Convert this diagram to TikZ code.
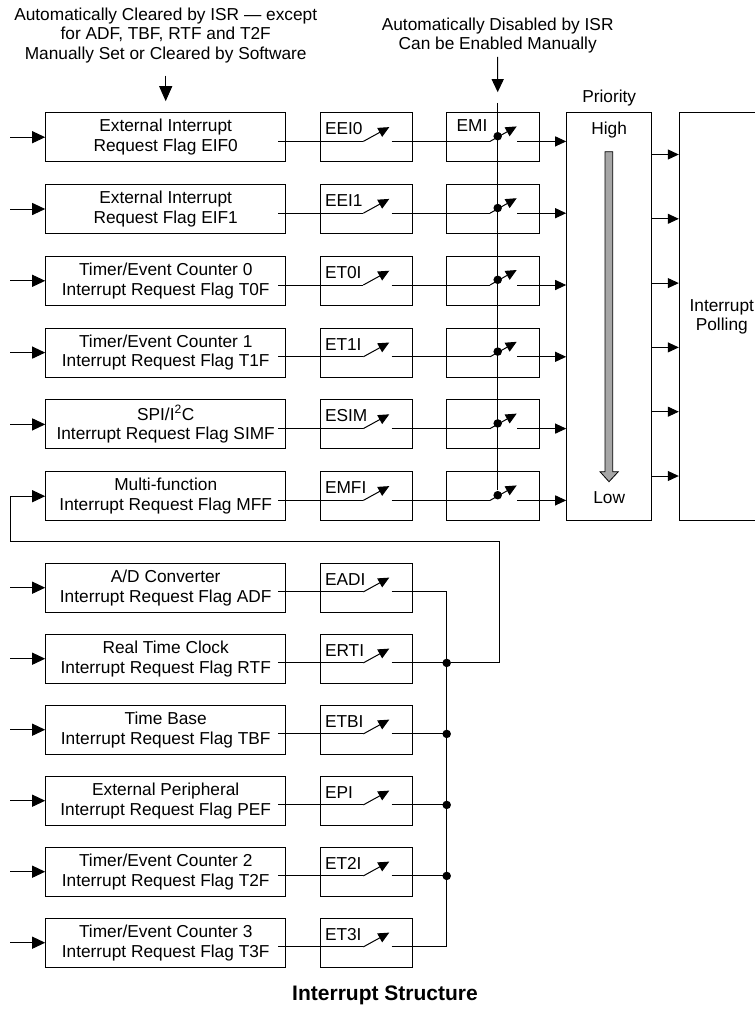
\documentclass[tikz,border=0pt]{standalone}
\usepackage{fontspec}
\setmainfont{Liberation Sans}
\usetikzlibrary{arrows.meta,positioning,calc}

\begin{document}
\begin{tikzpicture}[x=1pt,y=-1pt,line width=1pt,
    font=\fontsize{17.3}{19.7}\selectfont,
    flag/.style={rectangle,draw,align=center,minimum width=240pt,minimum height=49pt,inner sep=0pt},
    enbox/.style={rectangle,draw,minimum width=91.6pt,minimum height=49pt},
    emibox/.style={rectangle,draw,minimum width=92.3pt,minimum height=49pt},
    tag/.style={anchor=base west,inner sep=0pt},
    arr/.style={-{Triangle[length=13pt,width=12pt]}},
    arrbig/.style={-{Triangle[length=15pt,width=13pt]}},
    arrs/.style={-{Triangle[length=11pt,width=10pt]}},
    sw/.style={-{Triangle[length=11pt,width=10pt]}},
    dot/.style={circle,fill,inner sep=0pt,minimum size=8.5pt}]
    \useasboundingbox (0,0) rectangle (755,1010);

    % Notes
    \node[align=center,anchor=north,inner sep=0pt] (clrnote) at (165.7,7) {Automatically Cleared by ISR — except\\for ADF, TBF, RTF and T2F\\Manually Set or Cleared by Software};
    \node[align=center,anchor=north,inner sep=0pt] (emanote) at (497.7,17) {Automatically Disabled by ISR\\Can be Enabled Manually};

    % Request flags
    \node[flag] (f1) at (165.7,137.2) {External Interrupt\\Request Flag EIF0};
    \node[flag] (f2) at (165.7,209.0) {External Interrupt\\Request Flag EIF1};
    \node[flag] (f3) at (165.7,280.8) {Timer/Event Counter 0\\Interrupt Request Flag T0F};
    \node[flag] (f4) at (165.7,352.6) {Timer/Event Counter 1\\Interrupt Request Flag T1F};
    \node[flag] (f5) at (165.7,424.4) {SPI/I\textsuperscript{2}C\\Interrupt Request Flag SIMF};
    \node[flag] (f6) at (165.7,496.2) {Multi-function\\Interrupt Request Flag MFF};
    \node[flag] (f7) at (165.7,587.7) {A/D Converter\\Interrupt Request Flag ADF};
    \node[flag] (f8) at (165.7,658.7) {Real Time Clock\\Interrupt Request Flag RTF};
    \node[flag] (f9) at (165.7,729.7) {Time Base\\Interrupt Request Flag TBF};
    \node[flag] (f10) at (165.7,800.7) {External Peripheral\\Interrupt Request Flag PEF};
    \node[flag] (f11) at (165.7,871.7) {Timer/Event Counter 2\\Interrupt Request Flag T2F};
    \node[flag] (f12) at (165.7,942.7) {Timer/Event Counter 3\\Interrupt Request Flag T3F};

    % Enable bits
    \node[enbox] (e1) at (366.5,137.2) {};
    \node[enbox] (e2) at (366.5,209.0) {};
    \node[enbox] (e3) at (366.5,280.8) {};
    \node[enbox] (e4) at (366.5,352.6) {};
    \node[enbox] (e5) at (366.5,424.4) {};
    \node[enbox] (e6) at (366.5,496.2) {};
    \node[enbox] (e7) at (366.5,587.7) {};
    \node[enbox] (e8) at (366.5,658.7) {};
    \node[enbox] (e9) at (366.5,729.7) {};
    \node[enbox] (e10) at (366.5,800.7) {};
    \node[enbox] (e11) at (366.5,871.7) {};
    \node[enbox] (e12) at (366.5,942.7) {};
    \node[tag] (t1) at ([shift={(4.3pt,-22.5pt)}]e1.north west) {EEI0};
    \node[tag] (t2) at ([shift={(4.3pt,-22.5pt)}]e2.north west) {EEI1};
    \node[tag] (t3) at ([shift={(4.3pt,-22.5pt)}]e3.north west) {ET0I};
    \node[tag] (t4) at ([shift={(4.3pt,-22.5pt)}]e4.north west) {ET1I};
    \node[tag] (t5) at ([shift={(4.3pt,-22.5pt)}]e5.north west) {ESIM};
    \node[tag] (t6) at ([shift={(4.3pt,-22.5pt)}]e6.north west) {EMFI};
    \node[tag] (t7) at ([shift={(4.3pt,-22.5pt)}]e7.north west) {EADI};
    \node[tag] (t8) at ([shift={(4.3pt,-22.5pt)}]e8.north west) {ERTI};
    \node[tag] (t9) at ([shift={(4.3pt,-22.5pt)}]e9.north west) {ETBI};
    \node[tag] (t10) at ([shift={(4.3pt,-22.5pt)}]e10.north west) {EPI};
    \node[tag] (t11) at ([shift={(4.3pt,-22.5pt)}]e11.north west) {ET2I};
    \node[tag] (t12) at ([shift={(4.3pt,-22.5pt)}]e12.north west) {ET3I};

    % Master enable
    \node[emibox] (m1) at (492.85,137.2) {};
    \node[emibox] (m2) at (492.85,209.0) {};
    \node[emibox] (m3) at (492.85,280.8) {};
    \node[emibox] (m4) at (492.85,352.6) {};
    \node[emibox] (m5) at (492.85,424.4) {};
    \node[emibox] (m6) at (492.85,496.2) {};
    \node[tag] (emi) at ([shift={(10pt,-19.6pt)}]m1.north west) {EMI};

    % Priority and polling
    \node[draw,minimum width=85pt,minimum height=408pt] (pri) at (609.2,316.7) {};
    \node[anchor=base] (prilbl) at ([yshift=10pt]pri.north) {Priority};
    \node[anchor=base] (high) at ([yshift=-22.3pt]pri.north) {High};
    \node[anchor=base] (low) at ([yshift=18pt]pri.south) {Low};
    \draw[fill=black!35,line width=0.8pt] (605,151.7) -- (612.7,151.7) -- (612.7,471.7) -- (618.3,471.7)
        -- (609,481.7) -- (600,471.7) -- (605,471.7) -- cycle;
    \node[draw,minimum width=85pt,minimum height=408pt,align=center] (poll) at (721.8,316.7) {Interrupt\\Polling};

    \node[font=\fontsize{21}{24}\selectfont\bfseries,anchor=base] (title) at (385,1000) {Interrupt Structure};

    % Arrows
    \draw[arrbig] ([yshift=-12pt]clrnote.south) -- ([yshift=11pt]f1.north);
    \coordinate (emitop) at ([shift={(4.85pt,9.4pt)}]m1.north);
    \draw[arr] ([yshift=-3pt]emanote.south) -- ([yshift=10.6pt]emitop);

    \foreach \i in {1,2,3,4,5,7,8,9,10,11,12}
        \draw[arr] ([xshift=-35pt]f\i.west) -- (f\i.west);

    \foreach \i in {1,...,12}
        \draw ([shift={(-8pt,-4.2pt)}]f\i.east) -- ([shift={(-3.2pt,-4.2pt)}]e\i.center)
            edge[sw] ([shift={(22.8pt,10.1pt)}]e\i.center);

    \foreach \i in {1,...,6} {
        \draw ([shift={(25.2pt,-4.2pt)}]e\i.center) -- ([shift={(-2.85pt,-4.2pt)}]m\i.center)
            edge[sw] ([shift={(23.85pt,10.8pt)}]m\i.center);
        \node[dot] (d\i) at ([shift={(4.85pt,1pt)}]m\i.center) {};
        \draw[arrs] ([shift={(24.45pt,-4.2pt)}]m\i.center) coordinate (q\i) -- (q\i -| pri.west);
    }
    \draw (emitop) -- (d6);

    \foreach \k in {0,...,5}
        \draw[arrs] ($(pri.north east)+(0,{42.3+64.3*\k})$) coordinate (pp) -- (pp -| poll.west);

    % Shared bus
    \coordinate (bus) at (446.7,0);
    \foreach \i in {7,...,12}
        \draw ([shift={(25.2pt,-4.2pt)}]e\i.center) coordinate (o\i) -- (o\i -| bus);
    \draw (o7 -| bus) -- (o12 -| bus);
    \foreach \i in {8,...,11}
        \node[dot] (b\i) at (o\i -| bus) {};

    % Feedback into multi-function flag
    \coordinate (fbr) at (499,541);
    \coordinate (fbl) at (10.7,541);
    \draw[arr] (b8) -| (fbr) -- (fbl) |- (f6.west);
\end{tikzpicture}
\end{document}
